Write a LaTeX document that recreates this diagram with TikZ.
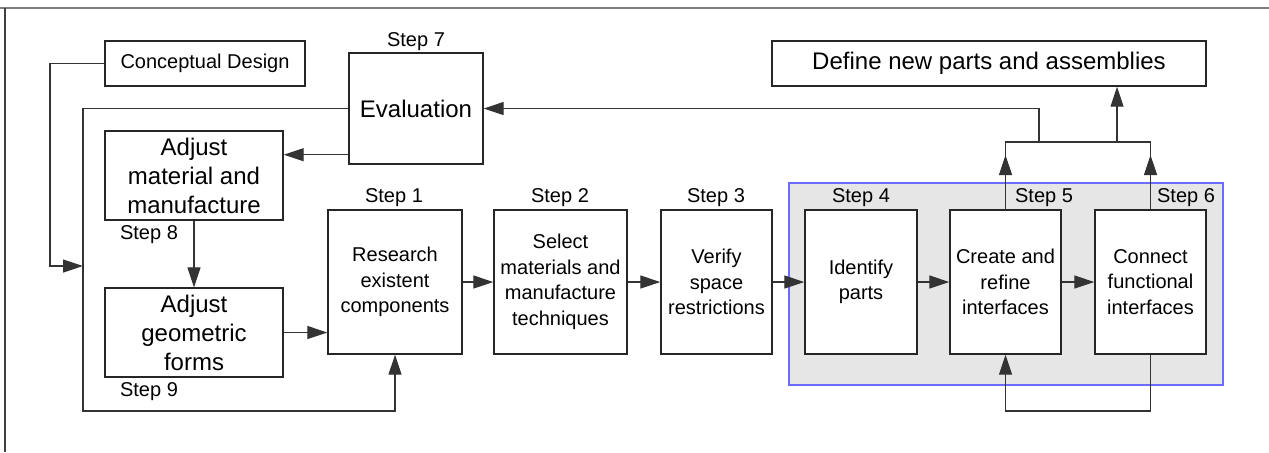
\documentclass[tikz,border=0pt]{standalone}
\usepackage{fontspec}
\setmainfont{Liberation Sans}
\usetikzlibrary{arrows.meta}
\definecolor{regionfill}{HTML}{E6E6E6}
\definecolor{regionline}{HTML}{6B6BFF}
\tikzset{
  box/.style={draw=black!85, line width=0.7pt, fill=white, inner sep=0pt, align=center},
  small/.style={font=\fontsize{10}{12.75}\selectfont},
  large/.style={font=\fontsize{12}{14.5}\selectfont},
  steplabel/.style={inner sep=0pt, font=\fontsize{10}{12}\selectfont},
  conn/.style={draw=black!80, line width=0.6pt},
  arr/.style={conn, -{Triangle[length=10pt,width=6.5pt]}},
}
\begin{document}
\begin{tikzpicture}[x=0.5pt, y=-0.5pt]
\useasboundingbox (0,0) rectangle (1269,452);
% frame
\draw[gray, line width=1pt] (0,8) -- (1269,8);
\draw[black!75, line width=0.7pt] (5,8) -- (5,452);
% grey region
\draw[regionline, fill=regionfill, line width=0.7pt] (789,183) rectangle (1223,385);
% boxes
\node[box, small, minimum width=100pt, minimum height=22.5pt] (concept) at (205,63.5) {Conceptual Design};
\node[box, large, minimum width=217pt, minimum height=22.5pt] (define) at (989,63.5) {Define new parts and assemblies};
\node[box, large, minimum width=67pt, minimum height=55.5pt] (eval) at (416,108.5) {Evaluation};
\node[box, large, minimum width=89pt, minimum height=44.5pt] (adjm) at (194,175.5) {Adjust\\material and\\manufacture};
\node[box, large, minimum width=89pt, minimum height=44.5pt] (adjg) at (194,332.5) {Adjust\\geometric\\forms};
\node[box, small, minimum width=67pt, minimum height=72pt] (research) at (395,282) {Research\\existent\\components};
\node[box, small, minimum width=66.5pt, minimum height=72pt] (select) at (560.5,282) {Select\\materials and\\manufacture\\techniques};
\node[box, small, minimum width=55.5pt, minimum height=72pt] (verify) at (716.5,282) {Verify\\space\\restrictions};
\node[box, small, minimum width=56pt, minimum height=72pt] (identify) at (861,282) {Identify\\parts};
\node[box, small, minimum width=55.5pt, minimum height=72pt] (create) at (1005.5,282) {Create and\\refine\\interfaces};
\node[box, small, minimum width=55.5pt, minimum height=72pt] (connect) at (1150.5,282) {Connect\\functional\\interfaces};
% step labels
\node[steplabel] (s1) at (394,198) {Step 1};
\node[steplabel] (s2) at (560,198) {Step 2};
\node[steplabel] (s3) at (716,198) {Step 3};
\node[steplabel] (s4) at (861,198) {Step 4};
\node[steplabel] (s5) at (1044,198) {Step 5};
\node[steplabel] (s6) at (1186,198) {Step 6};
\node[steplabel] (s7) at (416,42) {Step 7};
\node[steplabel] (s8) at (149,235) {Step 8};
\node[steplabel] (s9) at (149,392) {Step 9};
% helper coordinates
\coordinate (cl) at (50,63.5);
\coordinate (cin) at (83,266);
\coordinate (bl) at (83,411);
\coordinate (b2) at (1005.5,411);
\coordinate (jy) at (0,142);
\coordinate (ay) at (0,155);
\coordinate (d1) at (1117,142);
\coordinate (e1) at (1039,142);
% connectors
\draw[arr] (concept.west) -- (cl) |- (cin);
\draw[arr] (eval.west) -| (bl) -| (research.south);
\draw[arr] ([yshift=5pt]eval.south west) -- ([yshift=5pt]eval.south west -| adjm.east);
\draw[arr] (adjm.south) -- (adjg.north);
\draw[arr] (adjg.east) -- (adjg.east -| research.west);
\draw[arr] (research.east) -- (select.west);
\draw[arr] (select.east) -- (verify.west);
\draw[arr] (verify.east) -- (identify.west);
\draw[arr] (identify.east) -- (create.west);
\draw[arr] (create.east) -- (connect.west);
\draw[arr] (connect.south) |- (b2) -- (create.south);
\draw[conn] (create.north) -- (create.north |- jy) -- (connect.north |- jy) -- (connect.north);
\draw[arr] (create.north) -- (create.north |- ay);
\draw[arr] (connect.north) -- (connect.north |- ay);
\draw[arr] (d1) -- (d1 |- define.south);
\draw[arr] (e1) |- (eval.east);
\end{tikzpicture}
\end{document}
